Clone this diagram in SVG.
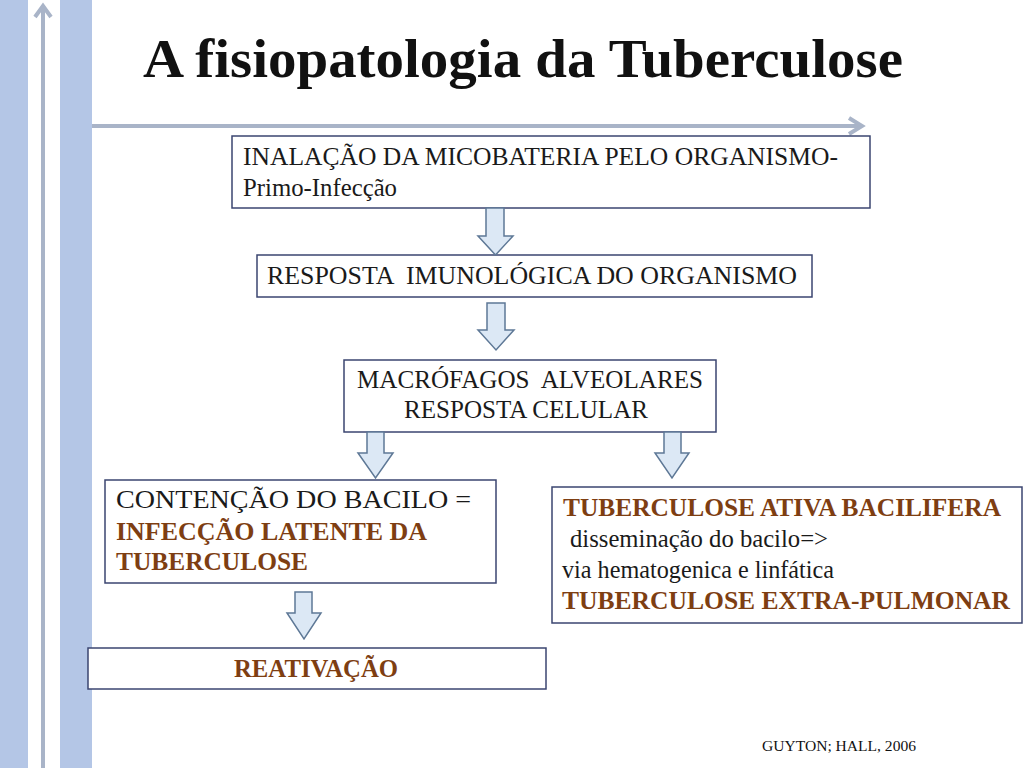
<svg xmlns="http://www.w3.org/2000/svg" width="1024" height="768" viewBox="0 0 1024 768">
<style>
.box{fill:#fff;stroke:#3B4570;stroke-width:1.5}
.t{font-size:25.5px;fill:#1a1a1a}
.b{font-weight:bold;fill:#7E3E12}
.arr{fill:#DCE8F5;stroke:#5E7896;stroke-width:1.5}
.deco{stroke:#A9B4C8;stroke-width:4;fill:none}
</style>
<rect x="0" y="0" width="28" height="768" fill="#B4C6E6"/>
<rect x="60" y="0" width="32" height="768" fill="#B4C6E6"/>
<g id="deco-arrows">
<line class="deco" x1="43" y1="6" x2="43" y2="768"/>
<polyline class="deco" points="35,17 43,6 51,17"/>
<line class="deco" x1="92" y1="126" x2="862" y2="126"/>
<polyline class="deco" points="849,118 862,126 849,134"/>
</g>
<g font-family="Liberation Serif, Times New Roman, serif">
<text x="143" y="77" font-weight="bold" font-size="55" fill="#111" textLength="760" lengthAdjust="spacingAndGlyphs">A fisiopatologia da Tuberculose</text>
<g id="n1">
<rect class="box" x="232" y="136" width="638" height="72"/>
<text class="t" x="243" y="165" textLength="595" lengthAdjust="spacingAndGlyphs">INALAÇÃO DA MICOBATERIA PELO ORGANISMO-</text>
<text class="t" x="243" y="196" textLength="154" lengthAdjust="spacingAndGlyphs">Primo-Infecção</text>
</g>
<g id="n2">
<rect class="box" x="257" y="255" width="555" height="42"/>
<text class="t" x="267" y="284" xml:space="preserve" textLength="530" lengthAdjust="spacingAndGlyphs">RESPOSTA  IMUNOLÓGICA DO ORGANISMO</text>
</g>
<g id="n3">
<rect class="box" x="344" y="360" width="372" height="72"/>
<text class="t" x="357" y="388" xml:space="preserve" textLength="346" lengthAdjust="spacingAndGlyphs">MACRÓFAGOS  ALVEOLARES</text>
<text class="t" x="404" y="418" textLength="244" lengthAdjust="spacingAndGlyphs">RESPOSTA CELULAR</text>
</g>
<g id="n4">
<rect class="box" x="105" y="480" width="391" height="103"/>
<text class="t" x="116" y="508" textLength="355" lengthAdjust="spacingAndGlyphs">CONTENÇÃO DO BACILO =</text>
<text class="t b" x="116" y="540" textLength="311" lengthAdjust="spacingAndGlyphs">INFECÇÃO LATENTE DA</text>
<text class="t b" x="116" y="570" textLength="192" lengthAdjust="spacingAndGlyphs">TUBERCULOSE</text>
</g>
<g id="n5">
<rect class="box" x="552" y="487" width="470" height="136"/>
<text class="t b" x="563" y="516" textLength="438" lengthAdjust="spacingAndGlyphs">TUBERCULOSE ATIVA BACILIFERA</text>
<text class="t" x="570" y="547" textLength="258" lengthAdjust="spacingAndGlyphs">disseminação do bacilo=&gt;</text>
<text class="t" x="562" y="578" textLength="272" lengthAdjust="spacingAndGlyphs">via hematogenica e linfática</text>
<text class="t b" x="562" y="609" textLength="448" lengthAdjust="spacingAndGlyphs">TUBERCULOSE EXTRA-PULMONAR</text>
</g>
<g id="n6">
<rect class="box" x="88" y="648" width="458" height="41"/>
<text class="t b" x="234" y="677" textLength="164" lengthAdjust="spacingAndGlyphs">REATIVAÇÃO</text>
</g>
<text x="762" y="751" font-size="15.5" fill="#111" textLength="154" lengthAdjust="spacingAndGlyphs">GUYTON; HALL, 2006</text>
</g>
<g id="connectors">
<polygon class="arr" points="486,208 504,208 504,236 513,236 495.5,255 478,236 486,236"/>
<polygon class="arr" points="487,303 505,303 505,330 514,330 496,350 478,330 487,330"/>
<polygon class="arr" points="367,432 384,432 384,453 393,453 375.5,478 358,453 367,453"/>
<polygon class="arr" points="664,432 681,432 681,453 689,453 672,478 655,453 664,453"/>
<polygon class="arr" points="295,592 312,592 312,613 321,613 304,639 287,613 295,613"/>
</g>
</svg>
